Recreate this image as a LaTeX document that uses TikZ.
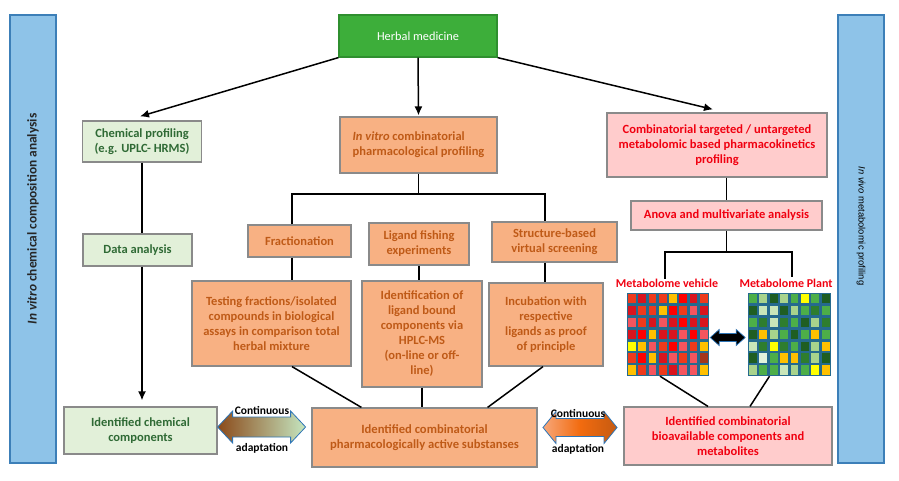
\documentclass[tikz,border=0pt]{standalone}
\usepackage{fontspec}
\setmainfont{Carlito}
\newfontfamily\arialfont{Liberation Sans}
\usetikzlibrary{calc,arrows.meta}
\definecolor{sidefill}{HTML}{8EC3E8}
\definecolor{sidedraw}{HTML}{3C7FB8}
\definecolor{hgreen}{HTML}{3DAE3A}
\definecolor{hgreendraw}{HTML}{2F8F2F}
\definecolor{lgfill}{HTML}{E2F0D9}
\definecolor{lgtext}{HTML}{2F6A35}
\definecolor{orfill}{HTML}{F8B183}
\definecolor{ortext}{HTML}{BF5A17}
\definecolor{pkfill}{HTML}{FFCCCC}
\definecolor{pktext}{HTML}{F00010}
\definecolor{boxdraw}{HTML}{8A8A8A}
\definecolor{arrblue}{HTML}{2E75B6}
\definecolor{gridbg}{HTML}{256A8E}
\definecolor{vr}{HTML}{D9141E}
\definecolor{vo}{HTML}{EE3A1C}
\definecolor{vp}{HTML}{F4555E}
\definecolor{vy}{HTML}{FFFF00}
\definecolor{vg}{HTML}{FFC000}
\definecolor{vR}{HTML}{FF0000}
\definecolor{vb}{HTML}{A5361A}
\definecolor{gm}{HTML}{4DAE48}
\definecolor{gl}{HTML}{A8D38C}
\definecolor{gd}{HTML}{1F5E22}
\definecolor{gp}{HTML}{C9E6B9}
\definecolor{gk}{HTML}{2E7D2E}
\definecolor{ge}{HTML}{E2F3DC}
\definecolor{brownarr}{HTML}{8B4A1A}
\definecolor{lgarr}{HTML}{C5E6C0}
\definecolor{or1}{HTML}{F7A77A}
\definecolor{or2}{HTML}{F26B0F}
\definecolor{or3}{HTML}{C55A11}
\begin{document}
\begin{tikzpicture}[x=1pt,y=-1pt,
  box/.style={draw=boxdraw, line width=1.2pt, align=center, inner sep=1pt,
    font=\fontsize{12.5}{15}\selectfont\bfseries},
  gbox/.style={box, fill=lgfill, text=lgtext},
  obox/.style={box, fill=orfill, text=ortext},
  pbox/.style={box, fill=pkfill, text=pktext},
  hbox/.style={draw=hgreendraw, line width=1.2pt, fill=hgreen, text=white,
    font=\fontsize{12.3}{14}\selectfont},
  side/.style={draw=sidedraw, line width=1.2pt, fill=sidefill, minimum width=46, minimum height=448},
  conn/.style={line width=1.5pt, black},
  arr/.style={conn, -{Latex[length=9pt,width=8pt]}},
  lab/.style={font=\fontsize{11.5}{12}\selectfont\bfseries, text=black, inner sep=0pt},
  mlab/.style={font=\fontsize{12}{13}\selectfont\bfseries, text=pktext, inner sep=0pt},
  bigarr/.style={draw=arrblue, line width=0.8pt}
]
\useasboundingbox (0,0) rectangle (899,480);

% side bars
\node[side] (lbar) at (33,239) {};
\node[rotate=90, font=\fontsize{13.4}{14}\selectfont\bfseries, text=black!85] (ltext) at (33,219) {\textit{In vitro} chemical composition analysis};
\node[side] (rbar) at (861,239) {};
\node[rotate=-90, font=\arialfont\fontsize{9.4}{11}\selectfont, text=black] (rtext) at (861,226) {\textit{In vivo} metabolomic profiling};

% top
\node[hbox, minimum width=158, minimum height=42] (herbal) at (418,36) {Herbal medicine};

% level 2
\node[gbox, minimum width=119, minimum height=41] (chem) at (142,141.5) {Chemical profiling\\(e.g. UPLC- HRMS)};
\node[obox, minimum width=157, minimum height=56, align=left] (invitro) at (418.5,145) {\textit{In vitro} combinatorial\\pharmacological profiling};
\node[pbox, minimum width=220, minimum height=64] (metab) at (717,145) {Combinatorial targeted / untargeted\\metabolomic based pharmacokinetics\\profiling};

% left column
\node[gbox, minimum width=109, minimum height=32] (data) at (137.5,250) {Data analysis};
\node[gbox, minimum width=153, minimum height=47] (idchem) at (140.5,430.5) {Identified chemical\\components};

% middle column
\node[obox, minimum width=103, minimum height=32] (frac) at (299.5,241) {Fractionation};
\node[obox, minimum width=100, minimum height=42] (ligand) at (419,244) {Ligand fishing\\experiments};
\node[obox, minimum width=125, minimum height=40] (struct) at (554.5,242) {Structure-based\\virtual screening};
\node[obox, minimum width=159, minimum height=85] (testing) at (271.5,323.5) {Testing fractions/isolated\\compounds in biological\\assays in comparison total\\herbal mixture};
\node[obox, minimum width=120, minimum height=106] (ident) at (422,334) {Identification of\\ligand bound\\components via\\HPLC-MS\\(on-line or off-\\line)};
\node[obox, minimum width=114, minimum height=83] (incub) at (546,324.5) {Incubation with\\respective\\ligands as proof\\of principle};
\node[obox, minimum width=225, minimum height=59, font=\fontsize{12.6}{15.7}\selectfont\bfseries] (idcomb) at (424.5,437.5) {Identified combinatorial\\pharmacologically active substanses};

% right column
\node[pbox, minimum width=191, minimum height=29] (anova) at (726.5,215.5) {Anova and multivariate analysis};
\node[mlab] (vlab) at (667,283) {Metabolome vehicle};
\node[mlab] (plab) at (786,283) {Metabolome Plant};
\node[pbox, minimum width=208, minimum height=58] (idbio) at (728,436) {Identified combinatorial\\bioavailable components and\\metabolites};

% heatmaps
\node[fill=gridbg, minimum width=82, minimum height=83, inner sep=0pt] (vgrid) at (668,334.5) {};
\node[fill=gridbg, minimum width=83, minimum height=83, inner sep=0pt] (pgrid) at (789.5,334.5) {};
\foreach \row [count=\r from 0] in {
  {vo,vr,vo,vo,vg,vR,vr,vo},
  {vr,vo,vo,vg,vR,vo,vp,vr},
  {vp,vo,vr,vp,vr,vR,vr,vr},
  {vr,vR,vg,vr,vr,vp,vR,vp},
  {vy,vg,vp,vo,vR,vp,vo,vg},
  {vo,vR,vg,vr,vp,vo,vp,vb},
  {vg,vo,vp,vo,vr,vp,vp,vg}}{
  \foreach \c [count=\k from 0] in \row {
    \fill[\c] ($(vgrid.north west)+(\k*10.25+1.3,\r*11.857+1.3)$) rectangle ++(7.65,9.25);
  }
}
\foreach \row [count=\r from 0] in {
  {gm,gl,gd,gl,gm,vy,gm,gd},
  {gd,gp,gp,gd,gl,gm,gk,gm},
  {gm,gk,gp,gk,gm,gd,gl,gk},
  {gd,vg,gl,gm,gd,gm,vg,gm},
  {gp,gk,vy,gk,gm,gd,gl,vg},
  {gd,ge,gm,vg,vg,gk,gl,gd},
  {gl,gm,gm,gp,gl,gm,vy,vg}}{
  \foreach \c [count=\k from 0] in \row {
    \fill[\c] ($(pgrid.north west)+(\k*10.375+1.3,\r*11.857+1.3)$) rectangle ++(7.8,9.25);
  }
}
% small black double arrow between heatmaps
\draw[fill=black, draw=arrblue, line width=0.7pt]
  ($(vgrid.east)+(1,3)$) -- ++(9,-8) -- ++(0,4) -- ++(17,0) -- ++(0,-4) -- ++(9,8)
  -- ++(-9,8) -- ++(0,-4) -- ++(-17,0) -- ++(0,4) -- cycle;

% connectors
\draw[arr] (herbal.south west) -- ($(chem.north)+(-2,-4)$);
\draw[arr] (herbal.south) -- ($(invitro.north)+(0,-1)$);
\draw[arr] (herbal.south east) -- ($(metab.north)+(-4,-3)$);
\draw[conn] (chem.south) -- (data.north -| chem.south);
\draw[arr] (data.south -| chem.south) -- ($(idchem.north -| chem.south)+(0,-6)$);

\coordinate (bl) at (292,194);
\coordinate (br) at (545,194);
\draw[conn] (invitro.south) -- (invitro.south |- bl);
\draw[conn] (frac.north -| bl) -- (bl) -- (br) -- (struct.north -| br);
\draw[conn] (frac.south -| bl) -- (testing.north -| bl);
\draw[conn] (ligand.south) -- (ident.north -| ligand.south);
\draw[conn] (struct.south -| br) -- (incub.north -| br);
\draw[conn] (testing.south -| bl) -- ($(idcomb.north west)+(50,0)$);
\draw[conn] (ident.south) -- (idcomb.north -| ident.south);
\draw[conn] ($(incub.south)+(-3,0)$) -- ($(idcomb.north east)+(-50,0)$);

\draw[conn] (metab.south -| anova.north) -- (anova.north);
\coordinate (rl) at (665,252);
\coordinate (rr) at (792,252);
\draw[conn] (anova.south) -- (anova.south |- rl);
\draw[conn] (vlab.north -| rl) -- ++(0,-2) -- (rl) -- (rr) -- ($(plab.north -| rr)+(0,-2)$);
\draw[conn] ($(vgrid.south)+(-8,0)$) -- ($(idbio.north)+(-20,0)$);
\draw[conn] ($(pgrid.south)+(-20,0)$) -- ($(idbio.north)+(22,0)$);

% big double arrows
\shade[left color=brownarr, right color=lgarr] (idchem.east |- 0,427) -- ++(15,-16) -- ++(0,6) -- ++(58,0) -- ++(0,-6) -- ++(15,16) -- ++(-15,16) -- ++(0,-6) -- ++(-58,0) -- ++(0,6) -- cycle;
\draw[bigarr] (idchem.east |- 0,427) -- ++(15,-16) -- ++(0,6) -- ++(58,0) -- ++(0,-6) -- ++(15,16) -- ++(-15,16) -- ++(0,-6) -- ++(-58,0) -- ++(0,6) -- cycle;
\node[lab] (c1) at (262,410) {Continuous};
\node[lab] (a1) at (262,448) {adaptation};

\shade[left color=or1, right color=or3, middle color=or2] (543,427.5) -- ++(13,-16) -- ++(0,7) -- ++(48,0) -- ++(0,-7) -- ++(13,16) -- ++(-13,16) -- ++(0,-7) -- ++(-48,0) -- ++(0,7) -- cycle;
\draw[bigarr] (543,427.5) -- ++(13,-16) -- ++(0,7) -- ++(48,0) -- ++(0,-7) -- ++(13,16) -- ++(-13,16) -- ++(0,-7) -- ++(-48,0) -- ++(0,7) -- cycle;
\node[lab] (c2) at (578,413) {Continuous};
\node[lab] (a2) at (578,449) {adaptation};
\end{tikzpicture}
\end{document}
